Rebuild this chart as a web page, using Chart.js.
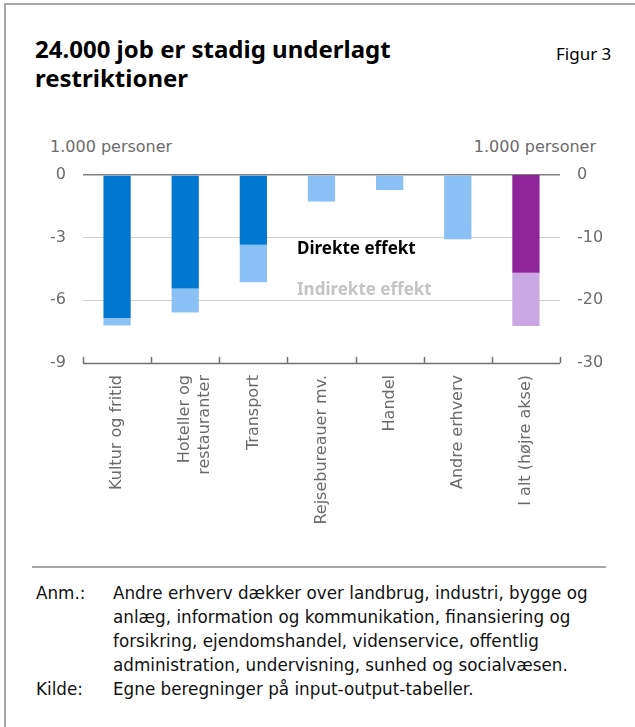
<!DOCTYPE html>
<html>
<head>
<meta charset="utf-8">
<script src="https://cdn.jsdelivr.net/npm/chart.js@4"></script>
<style>
  html, body { margin:0; padding:0; background:#fff; }
  body { width:635px; height:727px; position:relative; overflow:hidden; font-family:"DejaVu Sans", sans-serif; }
  #frame { position:absolute; left:4px; top:3px; width:700px; height:800px; border-top:2px solid #a8a8a8; border-left:2px solid #a8a8a8; }
  #title { position:absolute; left:35px; top:34px; font-family:"Noto Sans", sans-serif; font-size:24px; font-weight:bold; line-height:29px; color:#000; }
  #fig { position:absolute; left:556px; top:42px; font-family:"Noto Sans", sans-serif; font-size:17px; color:#000; }
  .unit { position:absolute; top:137px; font-family:"DejaVu Sans", sans-serif; font-size:16px; color:#6b6b6b; }
  #uL { left:50px; }
  #uR { right:39px; }
  #sep { position:absolute; left:32px; top:566px; width:574px; height:2px; background:#a8a8a8; }
  #notes { position:absolute; left:36px; top:581px; font-size:16.8px; line-height:24px; color:#111; }
  #notes .lab { position:absolute; left:0; }
  #notes .txt { position:absolute; left:77px; white-space:nowrap; }
  #wrap { position:absolute; left:0; top:0; width:635px; height:560px; }
</style>
</head>
<body>
<div id="frame"></div>
<div id="title">24.000 job er stadig underlagt<br>restriktioner</div>
<div id="fig">Figur 3</div>
<div class="unit" id="uL">1.000 personer</div>
<div class="unit" id="uR">1.000 personer</div>
<div id="wrap"><canvas id="c"></canvas></div>
<div id="sep"></div>
<div id="notes">
  <div class="lab" style="top:0">Anm.:</div>
  <div class="txt" style="top:0">Andre erhverv dækker over landbrug, industri, bygge og<br>anlæg, information og kommunikation, finansiering og<br>forsikring, ejendomshandel, videnservice, offentlig<br>administration, undervisning, sunhed og socialvæsen.</div>
  <div class="lab" style="top:96px">Kilde:</div>
  <div class="txt" style="top:96px">Egne beregninger på input-output-tabeller.</div>
</div>
<script>
// Data (1.000 personer)
const categories = [
  'Kultur og fritid',
  ['Hoteller og', 'restauranter'],
  'Transport',
  'Rejsebureauer mv.',
  'Handel',
  'Andre erhverv',
  'I alt (højre akse)'
];
const direkte   = [-6.85, -5.43, -3.34, 0, 0, 0, null];
const indirekte = [-0.35, -1.15, -1.80, -1.27, -0.72, -3.07, null];
const direkteTotal   = [null, null, null, null, null, null, -15.6];
const indirekteTotal = [null, null, null, null, null, null, -8.5];
const leftTicks  = [0, -3, -6, -9];
const rightTicks = [0, -10, -20, -30];
const seriesNames = ['Direkte effekt', 'Indirekte effekt'];

const DARK_BLUE = '#0078d2', LIGHT_BLUE = '#8ac0f4', PURPLE = '#8f2399', LIGHT_PURPLE = '#cba7e4';
const AX = '#6b6b6b';
const FONT = '"DejaVu Sans", sans-serif';

const ticksFrom = arr => (scale) => { scale.ticks = arr.map(v => ({ value: v })); };

const overlay = {
  id: 'overlay',
  afterDraw(chart) {
    const ctx = chart.ctx, x = chart.scales.x, y = chart.scales.y;
    const area = chart.chartArea;
    ctx.save();
    ctx.strokeStyle = '#707070';
    ctx.lineWidth = 1.5;
    for (let i = 0; i <= categories.length; i++) {
      const px = Math.round(x.getPixelForValue(i - 0.5)) + 0.5;
      ctx.beginPath();
      ctx.moveTo(px, area.bottom);
      ctx.lineTo(px, area.bottom - 6);
      ctx.stroke();
    }
    ctx.beginPath();
    ctx.moveTo(area.left, Math.round(area.bottom) + 0.5);
    ctx.lineTo(area.right, Math.round(area.bottom) + 0.5);
    ctx.stroke();
    ctx.font = 'bold 17px "Noto Sans", sans-serif';
    ctx.textBaseline = 'middle';
    ctx.textAlign = 'left';
    const lx = x.getPixelForValue(2.64);
    ctx.fillStyle = '#000';
    ctx.fillText(seriesNames[0], lx, y.getPixelForValue(-3.55));
    ctx.fillStyle = '#c4c4c4';
    ctx.fillText(seriesNames[1], lx, y.getPixelForValue(-5.5));
    ctx.restore();
  }
};

new Chart(document.getElementById('c'), {
  type: 'bar',
  data: {
    labels: categories,
    datasets: [
      { label: seriesNames[0], data: direkte, backgroundColor: DARK_BLUE, yAxisID: 'y', stack: 's' },
      { label: seriesNames[1], data: indirekte, backgroundColor: LIGHT_BLUE, yAxisID: 'y', stack: 's' },
      { label: seriesNames[0] + ' i alt', data: direkteTotal, backgroundColor: PURPLE, yAxisID: 'y2', stack: 's' },
      { label: seriesNames[1] + ' i alt', data: indirekteTotal, backgroundColor: LIGHT_PURPLE, yAxisID: 'y2', stack: 's' }
    ]
  },
  options: {
    responsive: true,
    maintainAspectRatio: false,
    animation: false,
    events: [],
    layout: { padding: { top: 175, left: 0, right: 0, bottom: 0 } },
    datasets: { bar: { barPercentage: 0.4, categoryPercentage: 1.0, borderWidth: 0 } },
    plugins: { legend: { display: false }, tooltip: { enabled: false } },
    scales: {
      x: {
        stacked: true,
        grid: { display: false },
        border: { display: false },
        ticks: { color: AX, font: { family: FONT, size: 16, lineHeight: 1.2 }, minRotation: 90, maxRotation: 90, padding: 4, autoSkip: false },
        afterFit(s) { s.height = 560 - 363; }
      },
      y: {
        position: 'left',
        stacked: true,
        min: leftTicks[leftTicks.length - 1], max: leftTicks[0],
        afterBuildTicks: ticksFrom(leftTicks),
        grid: {
          drawTicks: false,
          color: c => c.tick.value === 0 ? '#808080' : (c.tick.value === leftTicks[3] ? 'rgba(0,0,0,0)' : '#cfcfcf'),
          lineWidth: c => c.tick.value === 0 ? 1.5 : 1
        },
        border: { display: false },
        ticks: { color: AX, font: { family: FONT, size: 16 }, padding: 17, callback: v => String(v) },
        afterFit(s) { s.width = 83; }
      },
      y2: {
        position: 'right',
        stacked: true,
        min: rightTicks[rightTicks.length - 1], max: rightTicks[0],
        afterBuildTicks: ticksFrom(rightTicks),
        grid: { display: false, drawTicks: false },
        border: { display: false },
        ticks: { color: AX, font: { family: FONT, size: 16 }, padding: 17, callback: v => String(v) },
        afterFit(s) { s.width = 635 - 560; }
      }
    }
  },
  plugins: [overlay]
});
</script>
</body>
</html>
